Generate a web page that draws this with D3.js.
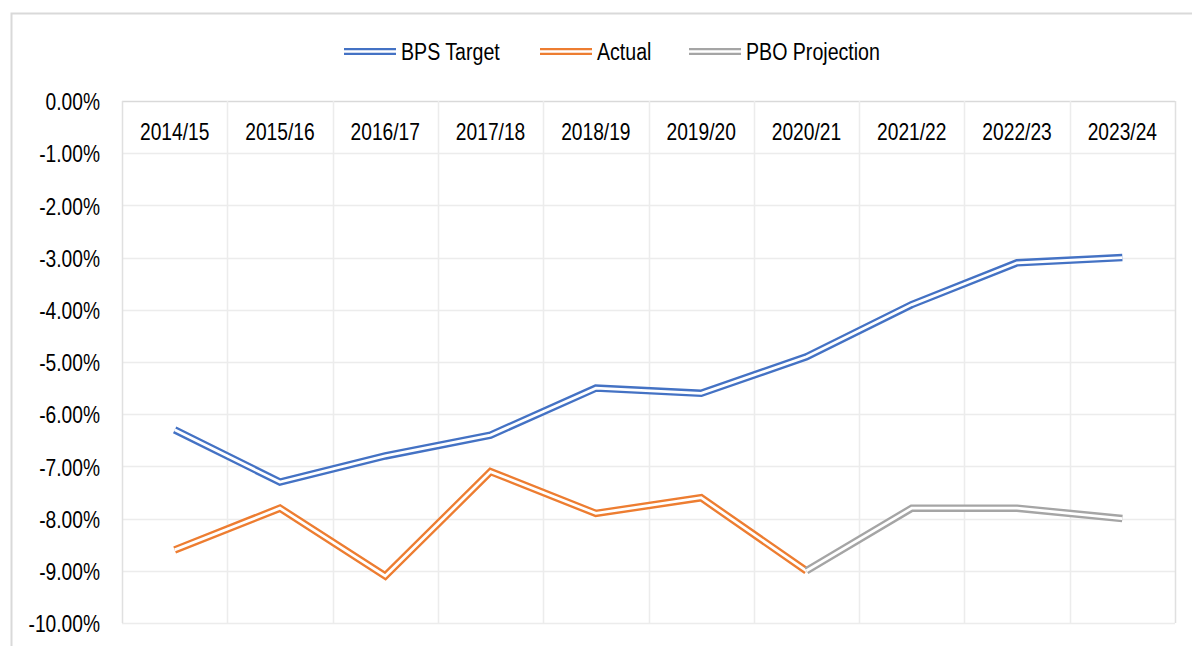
<!DOCTYPE html>
<html>
<head>
<meta charset="utf-8">
<script src="https://cdn.jsdelivr.net/npm/d3@7"></script>
<style>
  body { margin: 0; background: #fff; }
  text { font-family: "Liberation Sans", Arial, sans-serif; fill: #000; }
</style>
</head>
<body>
<div id="chart"></div>
<script>
// Datos
const years = ["2014/15", "2015/16", "2016/17", "2017/18", "2018/19", "2019/20", "2020/21", "2021/22", "2022/23", "2023/24"]
const bpsTarget = [-6.3, -7.3, -6.8, -6.4, -5.5, -5.6, -4.9, -3.9, -3.1, -3.0]
const actual = [-8.6, -7.8, -9.1, -7.1, -7.9, -7.6, -9.0, null, null, null]
const pboProjection = [null, null, null, null, null, null, -9.0, -7.8, -7.8, -8.0]
const yTicks = [0, -1, -2, -3, -4, -5, -6, -7, -8, -9, -10]

const seriesNames = ["BPS Target", "Actual", "PBO Projection"]
const seriesColors = ["#4472C4", "#ED7D31", "#A5A5A5"]
const series = [bpsTarget, actual, pboProjection]

//Constantes
const width = 1192
const height = 646
const margin = { top: 101, bottom: 23, left: 122, right: 17 }
const narrow = "scale(0.8,1)"   // la fuente original es tipo Arial Narrow

const fmt = d3.formatLocale({ decimal: ".", thousands: ",", grouping: [3], currency: ["", ""], minus: "-" }).format(".2f")

const svg = d3.select("#chart")
    .append("svg")
    .attr("width", width)
    .attr("height", height)

// borde exterior
svg.append("rect")
    .attr("x", 11.5).attr("y", 13.5)
    .attr("width", width + 20).attr("height", height + 20)
    .attr("fill", "none")
    .attr("stroke", "#d9d9d9")
    .attr("stroke-width", 2)

//Escalas
const x = d3.scaleBand().domain(years).range([margin.left, width - margin.right])
const y = d3.scaleLinear().domain([-10, 0]).range([height - margin.bottom, margin.top])

// Grid
const grid = svg.append("g").attr("class", "grid")
grid.selectAll("line.h")
    .data(yTicks)
    .enter().append("line")
    .attr("class", "h")
    .attr("x1", margin.left).attr("x2", width - margin.right)
    .attr("y1", d => Math.round(y(d)) + 0.5).attr("y2", d => Math.round(y(d)) + 0.5)
    .attr("stroke", d => d === 0 ? "#d9d9d9" : "#ececec")
    .attr("stroke-width", 1.5)

const bounds = years.map(d => x(d)).concat([x(years[years.length - 1]) + x.bandwidth()])
grid.selectAll("line.v")
    .data(bounds)
    .enter().append("line")
    .attr("class", "v")
    .attr("x1", d => Math.round(d) + 0.5).attr("x2", d => Math.round(d) + 0.5)
    .attr("y1", y(0)).attr("y2", y(-10))
    .attr("stroke", (d, i) => (i === 0 || i === bounds.length - 1) ? "#e0e0e0" : "#ececec")
    .attr("stroke-width", 1.5)

// Eje Y
const yAxis = d3.axisLeft(y).tickValues(yTicks).tickSize(0).tickPadding(0)
    .tickFormat(d => fmt(d) + "%")
const yAxisGroup = svg.append("g")
    .attr("transform", `translate(100, 0)`)
    .call(yAxis)
yAxisGroup.select(".domain").remove()
yAxisGroup.selectAll("text")
    .attr("font-size", 24)
    .attr("dy", "0.36em")
    .attr("x", 0)
    .attr("transform", narrow)
    .attr("font-family", null)

// Eje X (categorias arriba, dentro del area)
const xAxis = d3.axisBottom(x).tickSize(0).tickPadding(0)
const xAxisGroup = svg.append("g")
    .attr("transform", `translate(0, ${y(0) + 30})`)
    .call(xAxis)
xAxisGroup.select(".domain").remove()
xAxisGroup.selectAll("text")
    .attr("font-size", 24)
    .attr("dy", "0.36em")
    .attr("y", 0)
    .attr("transform", narrow)
    .attr("font-family", null)

// Lineas dobles
const line = d3.line()
    .defined(d => d.v !== null)
    .x(d => x(d.year) + x.bandwidth() / 2)
    .y(d => y(d.v))

const lines = svg.append("g").attr("class", "lines")
series.forEach((s, i) => {
    const data = years.map((yr, j) => ({ year: yr, v: s[j] }))
    lines.append("path")
        .datum(data)
        .attr("fill", "none")
        .attr("stroke", seriesColors[i])
        .attr("stroke-width", 7.5)
        .attr("stroke-linejoin", "miter")
        .attr("d", line)
    lines.append("path")
        .datum(data)
        .attr("fill", "none")
        .attr("stroke", "#fff")
        .attr("stroke-width", 2.8)
        .attr("stroke-linejoin", "miter")
        .attr("d", line)
})

// Leyenda
const legendPos = [344, 540, 689]
const legend = svg.append("g").attr("class", "leyenda")
const items = legend.selectAll("g")
    .data(seriesNames)
    .enter().append("g")
    .attr("transform", (d, i) => `translate(${legendPos[i]}, 51.5)`)
items.append("line")
    .attr("x1", 0).attr("x2", 52).attr("y1", 0).attr("y2", 0)
    .attr("stroke", (d, i) => seriesColors[i])
    .attr("stroke-width", 7)
items.append("line")
    .attr("x1", 0).attr("x2", 52).attr("y1", 0).attr("y2", 0)
    .attr("stroke", "#fff")
    .attr("stroke-width", 2.4)
items.append("text")
    .attr("transform", "translate(57,0) " + narrow)
    .attr("dy", "0.36em")
    .attr("font-size", 24.5)
    .text(d => d)
</script>
</body>
</html>
